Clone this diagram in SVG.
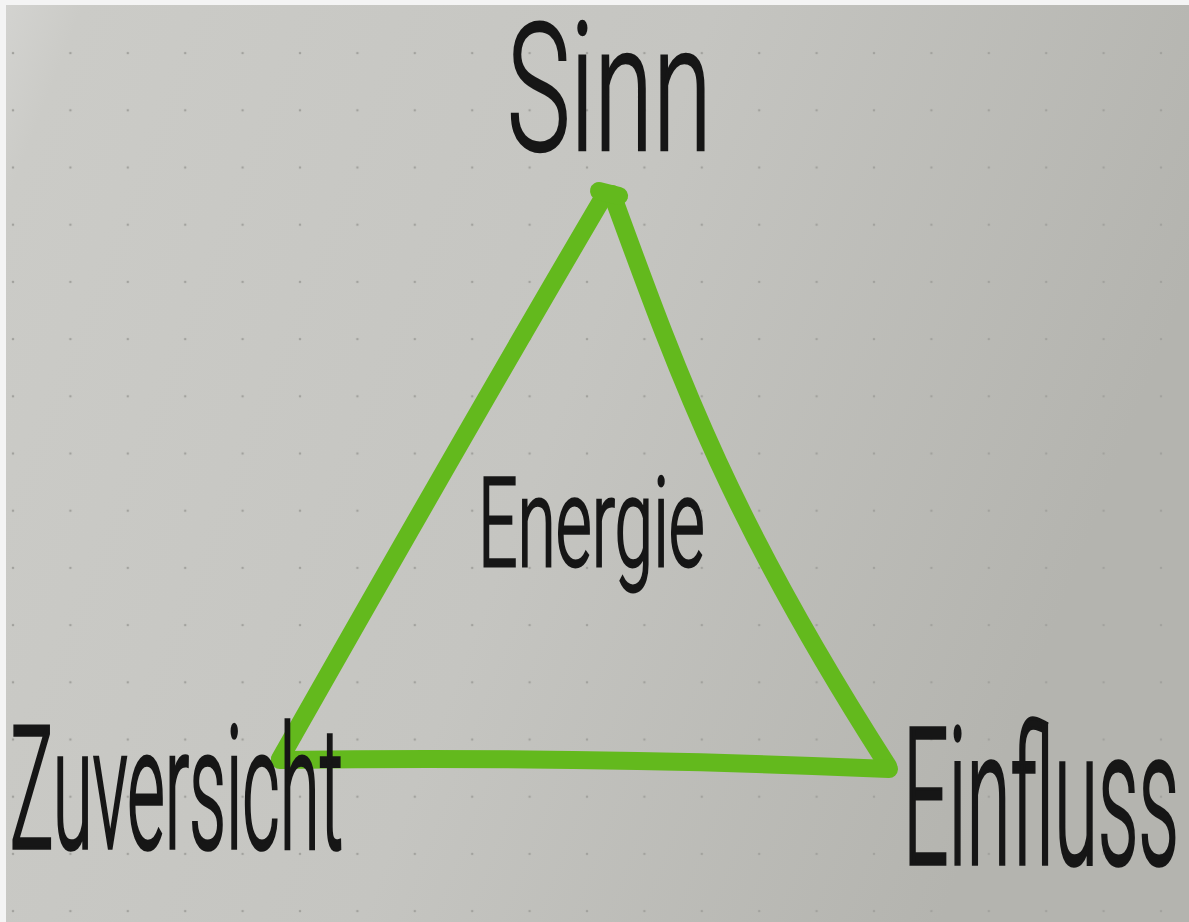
<svg xmlns="http://www.w3.org/2000/svg" width="1189" height="922" viewBox="0 0 1189 922">
<style>
.lbl{font-family:"Roboto","Lato","Noto Sans","DejaVu Sans Condensed",sans-serif;fill:#161616;stroke:#161616;font-weight:300}
.edge{fill:none;stroke:#63b91d;stroke-width:18;stroke-linecap:round;stroke-linejoin:round}
</style>
<defs>
<linearGradient id="paper" x1="0" y1="0" x2="1" y2="0.3">
<stop offset="0" stop-color="#d3d3d0"/>
<stop offset="0.06" stop-color="#cbcbc7"/>
<stop offset="0.55" stop-color="#c5c5c1"/>
<stop offset="1" stop-color="#b4b4af"/>
</linearGradient>
<pattern id="dots" x="-15.7" y="24.5" width="57.4" height="57.2" patternUnits="userSpaceOnUse">
<circle cx="28.7" cy="28.6" r="1.3" fill="#a2a29e"/>
</pattern>
</defs>
<rect x="0" y="0" width="1189" height="922" fill="#f4f4f4"/>
<rect x="6" y="5" width="1183" height="917" fill="url(#paper)"/>
<rect x="6" y="5" width="1183" height="917" fill="url(#dots)"/>
<g id="connectors">
<path class="edge" d="M604,196 Q478,410 280,759"/>
<path class="edge" d="M612,194 C680,380 730,520 888,766"/>
<path class="edge" d="M280,760 Q600,756 889,769" stroke-width="19"/>
<path class="edge" d="M599,191 L619,196"/>
</g>
<g id="node-sinn">
<text class="lbl" transform="translate(507,150) scale(0.58,1)" font-size="178" stroke-width="2.6" textLength="353" lengthAdjust="spacingAndGlyphs">Sinn</text>
</g>
<g id="node-energie">
<text class="lbl" transform="translate(478,566) scale(0.556,1)" font-size="124" stroke-width="2.8" textLength="408" lengthAdjust="spacingAndGlyphs">Energie</text>
</g>
<g id="node-zuversicht">
<text class="lbl" transform="translate(10,848) scale(0.42,1)" font-size="170" stroke-width="3.6" textLength="793" lengthAdjust="spacingAndGlyphs">Zuversicht</text>
</g>
<g id="node-einfluss">
<text class="lbl" transform="translate(903,864) scale(0.414,1)" font-size="192" stroke-width="3.6" textLength="667" lengthAdjust="spacingAndGlyphs">Einfluss</text>
</g>
</svg>
